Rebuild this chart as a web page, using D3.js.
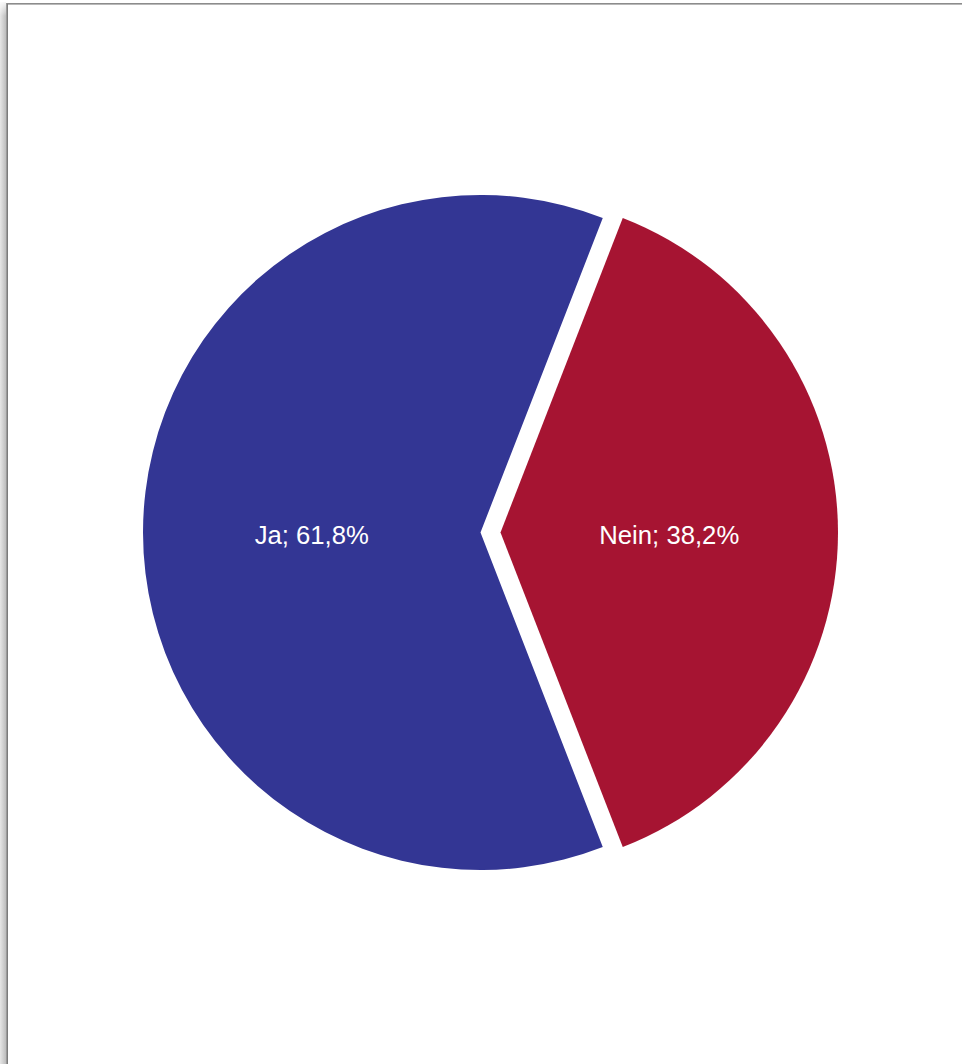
<!DOCTYPE html>
<html>
<head>
<meta charset="utf-8">
<script src="https://cdn.jsdelivr.net/npm/d3@7"></script>
<style>
  html, body { margin: 0; padding: 0; background: #ffffff; }
  svg { display: block; }
</style>
</head>
<body>
<svg id="chart" width="962" height="1064"></svg>
<script>
// Survey answers and their shares (percent)
const categories = ["Ja", "Nein"];
const shares = [61.8, 38.2];
const labels = ["Ja; 61,8%", "Nein; 38,2%"];
const colors = ["#333694", "#A61432"];

const width = 962, height = 1064;
const svg = d3.select("#chart");

// Panel frame: soft shadow on the left, thin grey rules on top and left
const defs = svg.append("defs");
const shadow = defs.append("linearGradient").attr("id", "leftShade")
  .attr("x1", 0).attr("x2", 1).attr("y1", 0).attr("y2", 0);
shadow.append("stop").attr("offset", "0%").attr("stop-color", "#e6e6e6");
shadow.append("stop").attr("offset", "100%").attr("stop-color", "#bdbdbd");
const topFade = defs.append("linearGradient").attr("id", "topFade")
  .attr("x1", 0).attr("x2", 0).attr("y1", 0).attr("y2", 1);
topFade.append("stop").attr("offset", "0%").attr("stop-color", "#ffffff");
topFade.append("stop").attr("offset", "100%").attr("stop-color", "#ffffff").attr("stop-opacity", 0);

svg.append("rect").attr("x", 0).attr("y", 2).attr("width", 6).attr("height", height - 2)
  .attr("fill", "url(#leftShade)");
svg.append("rect").attr("x", 0).attr("y", 0).attr("width", 6).attr("height", 16)
  .attr("fill", "url(#topFade)");
svg.append("rect").attr("x", 6).attr("y", 3).attr("width", width - 6).attr("height", 1).attr("fill", "#8c8c8c");
svg.append("rect").attr("x", 7).attr("y", 4).attr("width", width - 7).attr("height", 1).attr("fill", "#b8b8b8");
svg.append("rect").attr("x", 6).attr("y", 3).attr("width", 1).attr("height", height - 3).attr("fill", "#9a9a9a");
svg.append("rect").attr("x", 7).attr("y", 4).attr("width", 1).attr("height", height - 4).attr("fill", "#7c7c7c");

// Pie geometry
const cx = 480.5, cy = 532.5, radius = 337.5, explode = 20;
const data = categories.map((c, i) => ({ name: c, value: shares[i], label: labels[i], color: colors[i] }));

// Rotate so that the "Nein" slice is centred on the right (pointing at 3 o'clock)
const total = d3.sum(shares);
const neinMid = (shares[0] + shares[1] / 2) / total * 2 * Math.PI;
const start = Math.PI / 2 - neinMid;

const pie = d3.pie().value(d => d.value).sort(null)
  .startAngle(start).endAngle(start + 2 * Math.PI);
const arc = d3.arc().innerRadius(0).outerRadius(radius);
const arcs = pie(data);

const g = svg.append("g").attr("transform", `translate(${cx},${cy})`);

const slice = g.selectAll("g.slice").data(arcs).enter().append("g")
  .attr("class", "slice")
  .attr("transform", d => {
    if (d.data.name !== "Nein") return null;
    const mid = (d.startAngle + d.endAngle) / 2;
    return `translate(${explode * Math.sin(mid)},${-explode * Math.cos(mid)})`;
  });

slice.append("path")
  .attr("d", arc)
  .attr("fill", d => d.data.color);

slice.append("text")
  .attr("transform", d => `translate(${arc.centroid(d)})`)
  .attr("text-anchor", "middle")
  .attr("dy", "0.44em")
  .attr("fill", "#ffffff")
  .style("font-family", "'Liberation Sans', Arial, sans-serif")
  .style("font-size", "25.7px")
  .text(d => d.data.label);
</script>
</body>
</html>
